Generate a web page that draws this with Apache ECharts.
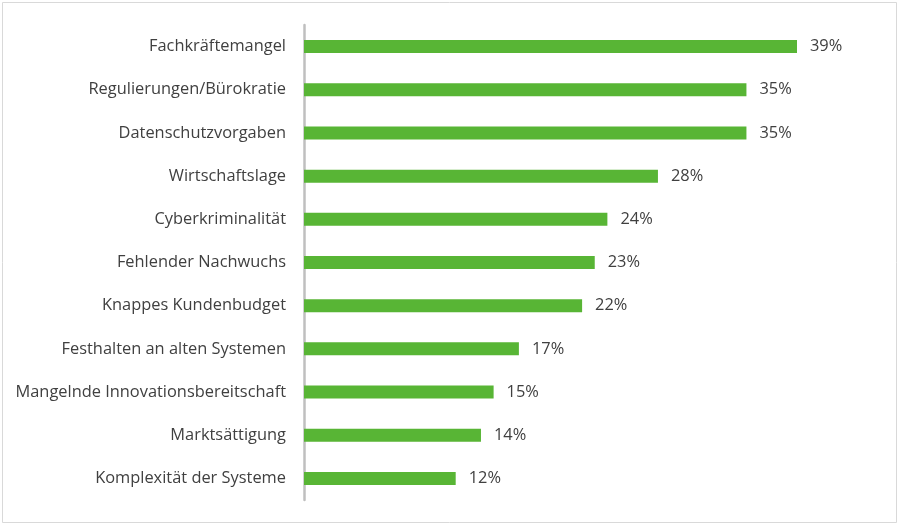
<!DOCTYPE html>
<html><head><meta charset="utf-8">
<script src="https://cdn.jsdelivr.net/npm/echarts@6/dist/echarts.min.js"></script>
<style>html,body{margin:0;padding:0;background:#fff}#c{width:900px;height:527px}</style>
</head><body><div id="c"></div>
<script>
const categories = ["Fachkräftemangel","Regulierungen/Bürokratie","Datenschutzvorgaben","Wirtschaftslage","Cyberkriminalität","Fehlender Nachwuchs","Knappes Kundenbudget","Festhalten an alten Systemen","Mangelnde Innovationsbereitschaft","Marktsättigung","Komplexität der Systeme"];
const values = [39,35,35,28,24,23,22,17,15,14,12];
const chart = echarts.init(document.getElementById('c'));
chart.setOption({
  animation:false,
  backgroundColor:'#fff',
  graphic:[{type:'rect',shape:{x:2.5,y:2.5,width:894,height:520},style:{fill:'none',stroke:'#d9d9d9',lineWidth:1}}],
  grid:{left:304,right:103,top:25,bottom:27,containLabel:false},
  xAxis:{type:'value',min:0,max:39,show:false},
  yAxis:{type:'category',inverse:true,data:categories,
    axisLine:{show:true,lineStyle:{color:'#bfbfbf',width:2.5}},
    axisTick:{show:false},
    axisLabel:{margin:18,color:'#404040',fontSize:16.4,fontFamily:'Open Sans'}},
  series:[{type:'bar',data:values,barWidth:13,itemStyle:{color:'#58b535'},
    label:{show:true,position:'right',distance:13,formatter:'{c}%',color:'#404040',fontSize:16.4,fontFamily:'Open Sans'}}]
});
</script></body></html>
